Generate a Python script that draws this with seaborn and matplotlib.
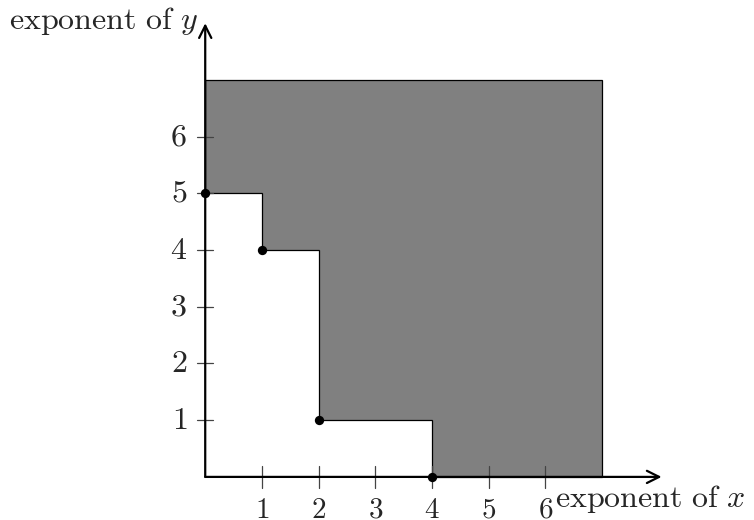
import numpy as np
import matplotlib
matplotlib.use("Agg")
import matplotlib.pyplot as plt
import seaborn as sns

# generators of the monomial ideal (exponents)
gen_x = [0, 1, 2, 4]
gen_y = [5, 4, 1, 0]
box_max = 7
axis_max = 8
tick_vals = [1, 2, 3, 4, 5, 6]

sns.set_theme(style="white")
plt.rcParams["mathtext.fontset"] = "cm"
plt.rcParams["font.family"] = ["DejaVu Serif"]

fig = plt.figure(figsize=(7.54, 5.2), dpi=100)
ax = fig.add_axes([0, 0, 1, 1])
ax.set_xlim(-3.62, 9.68)
ax.set_ylim(-0.76, 8.41)

# shaded region above the staircase
vx = [0]
vy = [box_max]
nxt = gen_x[1:] + [box_max]
for x0, y0, x1 in zip(gen_x, gen_y, nxt):
    vx += [x0, x1]
    vy += [y0, y0]
vx += [box_max]
vy += [box_max]
ax.fill(vx, vy, facecolor="#808080", edgecolor="black", lw=0.9, zorder=1)

# axes with arrows
ax.spines[:].set_visible(False)
ax.annotate("", xy=(axis_max + 0.05, 0), xytext=(0, 0),
            arrowprops=dict(arrowstyle="->", lw=1.6, color="black",
                            mutation_scale=22, shrinkA=0, shrinkB=0), zorder=3)
ax.annotate("", xy=(0, axis_max), xytext=(0, 0),
            arrowprops=dict(arrowstyle="->", lw=1.6, color="black",
                            mutation_scale=22, shrinkA=0, shrinkB=0), zorder=3)

# ticks
for t in tick_vals:
    ax.plot([t, t], [-0.2, 0.2], color="#444444", lw=0.9, zorder=2)
    ax.plot([-0.14, 0.14], [t, t], color="#444444", lw=0.9, zorder=2)
    ax.text(t, -0.33, "$%d$" % t, ha="center", va="top", fontsize=21)
    ax.text(-0.32, t, "$%d$" % t, ha="right", va="center", fontsize=23)

# generator points
sns.scatterplot(x=gen_x, y=gen_y, color="black", s=45, edgecolor="black",
                linewidth=0, ax=ax, zorder=4, clip_on=False)

ax.text(-0.13, 7.9, r"$\mathrm{exponent\ of}\ y$", ha="right", va="baseline",
        fontsize=23)
ax.text(6.17, -0.53, r"$\mathrm{exponent\ of}\ x$", ha="left", va="baseline",
        fontsize=23)

ax.set_xticks([])
ax.set_yticks([])
ax.set_facecolor("white")

fig.savefig("out.png", dpi=100)
